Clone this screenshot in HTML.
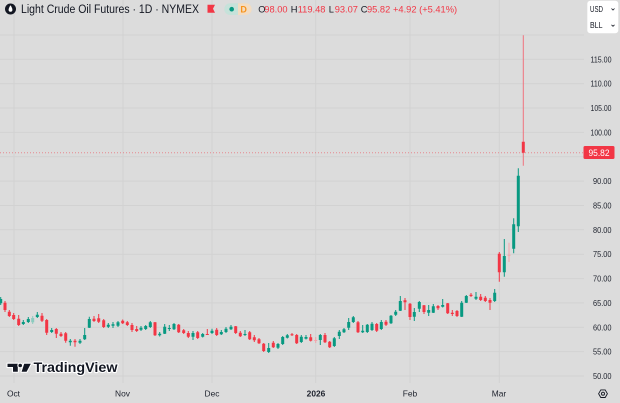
<!DOCTYPE html>
<html><head><meta charset="utf-8"><style>
html,body{margin:0;padding:0;background:#dcdcdc;}
svg{display:block;}
text{font-family:"Liberation Sans",sans-serif;}
</style></head><body>
<svg width="620" height="403" viewBox="0 0 620 403" xmlns="http://www.w3.org/2000/svg">
<rect width="620" height="403" fill="#dcdcdc"/>
<g stroke="#d2d2d2" stroke-width="1" fill="none">
<path d="M0 35H584M0 59.3H584M0 83.7H584M0 108H584M0 132.4H584M0 156.8H584M0 181.1H584M0 205.5H584M0 229.8H584M0 254.2H584M0 278.6H584M0 302.9H584M0 327.3H584M0 351.6H584M0 376H584"/>
<path d="M14 0V383M123 0V383M212 0V383M315.7 0V383M410 0V383M499.3 0V383"/>
</g>
<path d="M0 152.8H584" stroke="#f23645" stroke-width="1" stroke-dasharray="1,2" opacity="0.5"/>

<path fill="none" stroke="#089981" d="M0.7 297V305M23.3 320V325M28.3 317V323M37.3 312V318M51.7 328V333M70.3 339V345.7M80 339V344M84.7 328V340M89.3 316.7V328M108.3 323V328M113 322V328M118 321V327M141 326V331M145.7 325V330M150.3 321V328M159.7 332V336.5M164.7 324V334M169.3 325V331M174 323V330M193 331V340M202.7 333V337.5M212 328.7V334M221.3 330V335M226 327V333M231 325V330M245 330V336M268.7 343V353M278 343V349M282.7 336V345M287.3 334V338.5M301.3 335V343M306 335V339.5M320.3 334V345M334.3 337V347M339.3 330V339M344 328V333M348.7 318V330M353.3 316V323M362.7 325V333M367.3 324V333M372 322V331M381.3 320V330M391 315V324M395.7 310V316M400.3 296V311M414.3 308V321M419.3 301V312M428.7 305V316M433.3 304V313M442.7 299V307.5M461.7 301V317M466.3 295V303M476 292V300M494.7 289V302M504.3 239V276.7M513.7 218.3V253.3M518.3 168.3V232"/>
<path fill="#089981" d="M-0.8 299h3v4.3h-3zM21.8 322h3v2h-3zM26.8 319h3v3h-3zM35.8 314.7h3v2.3h-3zM50.2 330h3v2h-3zM68.8 340.7h3v1.6h-3zM78.5 340.7h3v2h-3zM83.2 335h3v4.3h-3zM87.8 319h3v8.7h-3zM106.8 324.7h3v2h-3zM111.5 324.3h3v1.4h-3zM116.5 322.3h3v3.4h-3zM139.5 327.7h3v2h-3zM144.2 326h3v3h-3zM148.8 322.3h3v4.7h-3zM158.2 333.7h3v1.6h-3zM163.2 326.7h3v7h-3zM167.8 328h3v1h-3zM172.5 324h3v5.3h-3zM191.5 333h3v3.7h-3zM201.2 334h3v2.7h-3zM210.5 330.7h3v2.3h-3zM219.8 332h3v2.3h-3zM224.5 328.7h3v3.3h-3zM229.5 326.7h3v2.6h-3zM243.5 334h3v1h-3zM267.2 348h3v4h-3zM276.5 344h3v3.7h-3zM281.2 337h3v7h-3zM285.8 335.3h3v2.4h-3zM299.8 336.7h3v5.3h-3zM304.5 337h3v1.7h-3zM318.8 335h3v5h-3zM332.8 338.3h3v7.7h-3zM337.8 331.7h3v4.3h-3zM342.5 329.3h3v3h-3zM347.2 322h3v5.7h-3zM351.8 317.3h3v4.7h-3zM361.2 330.7h3v1.6h-3zM365.8 324.7h3v7.3h-3zM370.5 323.7h3v6.3h-3zM379.8 322h3v7h-3zM389.5 315.7h3v7.6h-3zM394.2 311.7h3v3h-3zM398.8 301h3v9.7h-3zM412.8 312h3v4.7h-3zM417.8 302h3v6.7h-3zM427.2 310h3v2.7h-3zM431.8 306.3h3v6.4h-3zM441.2 305h3v1.7h-3zM460.2 302.7h3v14h-3zM464.8 296h3v6.7h-3zM474.5 296.7h3v2h-3zM493.2 292.7h3v8.3h-3zM502.8 256h3v16.3h-3zM512.2 224.3h3v24.4h-3zM516.8 175.7h3v50.6h-3z"/>
<path fill="none" stroke="#8ccbbf" d="M32.7 316V324"/>
<path fill="#8ccbbf" d="M31.2 318h3v4.3h-3z"/>

<path fill="none" stroke="#f23645" d="M5 301V312M9.3 310V317M13.7 313V320M18.7 315V326M42 313V322M46.7 319V335M56.3 328V338M61 332V337M65.7 332V342.7M75 339V346.7M94 316V322M98.7 314V323M103.7 319V328M122.7 319.5V324M127.3 321V326M132 323V332M136.7 326V332M155 322V336M178.7 324V333M183.7 329V334M188.3 331V338M197.7 331V339M207.3 329V335M216.7 328V336M235.7 326V334M240.3 331V337M249.7 331V340M254.3 335V342M259 338V344M263.7 343V352M273.3 341V348M292 333V336M296.7 334V344M310.7 334V341.5M325 333V343M329.7 341V348M358 321V333M376.7 323V332M386 320V326M405 298V310M410 303V320M424 305V314M438 305V310M447.7 303V314M452.3 310V316M457 310V317M471 293V297M480.7 294V301M485.3 296V302M490 298V310M499.3 252V281.7"/>
<path fill="none" stroke="#f0737e" d="M523.3 35.3V165.7"/>
<path fill="#f23645" d="M3.5 302.7h3v7.3h-3zM7.8 311.7h3v4.3h-3zM12.2 315h3v4h-3zM17.2 318.7h3v6.3h-3zM40.5 315.7h3v5h-3zM45.2 320h3v12.7h-3zM54.8 329h3v4.7h-3zM59.5 333.7h3v2.3h-3zM64.2 333.3h3v7.4h-3zM73.5 340.7h3v1.6h-3zM92.5 318.7h3v2.3h-3zM97.2 318.3h3v3.4h-3zM102.2 320.3h3v6.7h-3zM121.2 320.7h3v2.6h-3zM125.8 322.3h3v2.7h-3zM130.5 325h3v5h-3zM135.2 329h3v2h-3zM153.5 322.3h3v13h-3zM177.2 324.7h3v7.6h-3zM182.2 330.3h3v2.7h-3zM186.8 333h3v3.7h-3zM196.2 332.3h3v5.7h-3zM205.8 334h3v1h-3zM215.2 329.7h3v5.3h-3zM234.2 326.3h3v6.7h-3zM238.8 332.7h3v3.6h-3zM248.2 332.3h3v7h-3zM252.8 337.3h3v3h-3zM257.5 339.3h3v4h-3zM262.2 343.7h3v7.3h-3zM271.8 342.7h3v4.6h-3zM290.5 334.3h3v1h-3zM295.2 335h3v8.3h-3zM309.2 337.3h3v3.4h-3zM323.5 335h3v7.3h-3zM328.2 341.7h3v5.6h-3zM356.5 322.3h3v10h-3zM375.2 324h3v6.7h-3zM384.5 321.7h3v3h-3zM403.5 300.3h3v2h-3zM408.5 303.8h3v13.2h-3zM422.5 305.3h3v6.7h-3zM436.5 306h3v2.3h-3zM446.2 303.3h3v10h-3zM450.8 312.7h3v1.3h-3zM455.5 311h3v5h-3zM469.5 294.7h3v1.3h-3zM479.2 296.7h3v3.3h-3zM483.8 297.7h3v3.3h-3zM488.5 300h3v2.7h-3zM497.8 253.7h3v18.6h-3zM521.8 141.7h3v11h-3z"/>
<path fill="none" stroke="#f3a3aa" d="M315.7 337V343M509 242.7V262"/>
<path fill="#f3a3aa" d="M314.2 340h3v1h-3zM507.5 254.7h3v1h-3z"/>

<g font-size="8.6" fill="#1e222d" text-anchor="end">
<text x="611.5" y="62.3" textLength="21" lengthAdjust="spacingAndGlyphs">115.00</text>
<text x="611.5" y="86.7" textLength="21" lengthAdjust="spacingAndGlyphs">110.00</text>
<text x="611.5" y="111" textLength="21" lengthAdjust="spacingAndGlyphs">105.00</text>
<text x="611.5" y="135.4" textLength="21" lengthAdjust="spacingAndGlyphs">100.00</text>
<text x="611.5" y="184.1" textLength="18.5" lengthAdjust="spacingAndGlyphs">90.00</text>
<text x="611.5" y="208.5" textLength="18.5" lengthAdjust="spacingAndGlyphs">85.00</text>
<text x="611.5" y="232.8" textLength="18.5" lengthAdjust="spacingAndGlyphs">80.00</text>
<text x="611.5" y="257.2" textLength="18.5" lengthAdjust="spacingAndGlyphs">75.00</text>
<text x="611.5" y="281.6" textLength="18.5" lengthAdjust="spacingAndGlyphs">70.00</text>
<text x="611.5" y="305.9" textLength="18.5" lengthAdjust="spacingAndGlyphs">65.00</text>
<text x="611.5" y="330.3" textLength="18.5" lengthAdjust="spacingAndGlyphs">60.00</text>
<text x="611.5" y="354.6" textLength="18.5" lengthAdjust="spacingAndGlyphs">55.00</text>
<text x="611.5" y="379" textLength="18.5" lengthAdjust="spacingAndGlyphs">50.00</text>
</g>
<rect x="583.5" y="146" width="31" height="13" rx="1.5" fill="#f23645"/>
<text x="599" y="155.8" font-size="9" fill="#ffffff" text-anchor="middle" textLength="21" lengthAdjust="spacingAndGlyphs">95.82</text>

<rect x="587.3" y="0.7" width="31" height="32.6" rx="3" fill="#ffffff"/>
<text x="590" y="11.8" font-size="7.8" fill="#131722" textLength="13" lengthAdjust="spacingAndGlyphs">USD</text>
<text x="590" y="28" font-size="7.8" fill="#131722" textLength="12.5" lengthAdjust="spacingAndGlyphs">BLL</text>
<path d="M611.5 8.5L613 10L614.5 8.5M611.5 24.8L613 26.3L614.5 24.8" stroke="#131722" stroke-width="0.8" fill="none"/>

<g font-size="8.4" fill="#1e222d" text-anchor="middle">
<text x="13.5" y="396.6">Oct</text>
<text x="122.5" y="396.6">Nov</text>
<text x="212" y="396.6">Dec</text>
<text x="316" y="396.6" font-weight="bold">2026</text>
<text x="410" y="396.6">Feb</text>
<text x="499" y="396.6">Mar</text>
</g>
<path d="M600.8 389.9H605.2L607.4 393.7L605.2 397.5H600.8L598.6 393.7Z" stroke="#131722" stroke-width="0.9" fill="none"/>
<circle cx="603" cy="393.7" r="1.5" stroke="#131722" stroke-width="0.9" fill="none"/>

<circle cx="10.5" cy="9" r="5.5" fill="#131722"/>
<path d="M10.5 5.3C9.2 7.3 8.6 8.6 8.6 9.9A1.9 1.9 0 0 0 12.4 9.9C12.4 8.6 11.8 7.3 10.5 5.3Z" fill="#ffffff"/>
<text x="21" y="13.2" font-size="11.5" fill="#131722" textLength="178" lengthAdjust="spacingAndGlyphs">Light Crude Oil Futures · 1D · NYMEX</text>
<path d="M207.5 4.7H215L213 8.7L215 12.7H207.5Z" fill="#f23645"/>
<rect x="224.3" y="3.3" width="27.4" height="11.7" rx="5.8" fill="#c6e2da"/>
<path d="M238 3.3H245.9A5.8 5.8 0 0 1 251.7 9.1V9.2A5.8 5.8 0 0 1 245.9 15H238Z" fill="#f3dcc2"/>
<circle cx="231.7" cy="9.2" r="2.3" fill="#089981"/>
<text x="243.6" y="12.5" font-size="9" fill="#f7931a" text-anchor="middle" font-weight="bold">D</text>
<text y="12.3" font-size="9.3"><tspan x="258.3" fill="#131722">O</tspan><tspan x="264.3" fill="#f23645">98.00</tspan><tspan x="290.7" fill="#131722">H</tspan><tspan x="297.7" fill="#f23645">119.48</tspan><tspan x="328.7" fill="#131722">L</tspan><tspan x="334.7" fill="#f23645">93.07</tspan><tspan x="360.7" fill="#131722">C</tspan><tspan x="367" fill="#f23645">95.82</tspan><tspan x="393" fill="#f23645">+4.92 (+5.41%)</tspan></text>

<g stroke="#ffffff" stroke-width="2.2" stroke-linejoin="round" fill="#131722" paint-order="stroke">
<path d="M7.5 363.7H17.8V371.7H13V367H7.5Z"/>
<circle cx="20.2" cy="365.5" r="1.8"/>
<path d="M24.2 363.7H30.8L26.6 371.7H21.6Z"/>
<text x="33.5" y="372" font-size="13.5" font-weight="bold" textLength="84" lengthAdjust="spacingAndGlyphs">TradingView</text>
</g>
</svg>
</body></html>
